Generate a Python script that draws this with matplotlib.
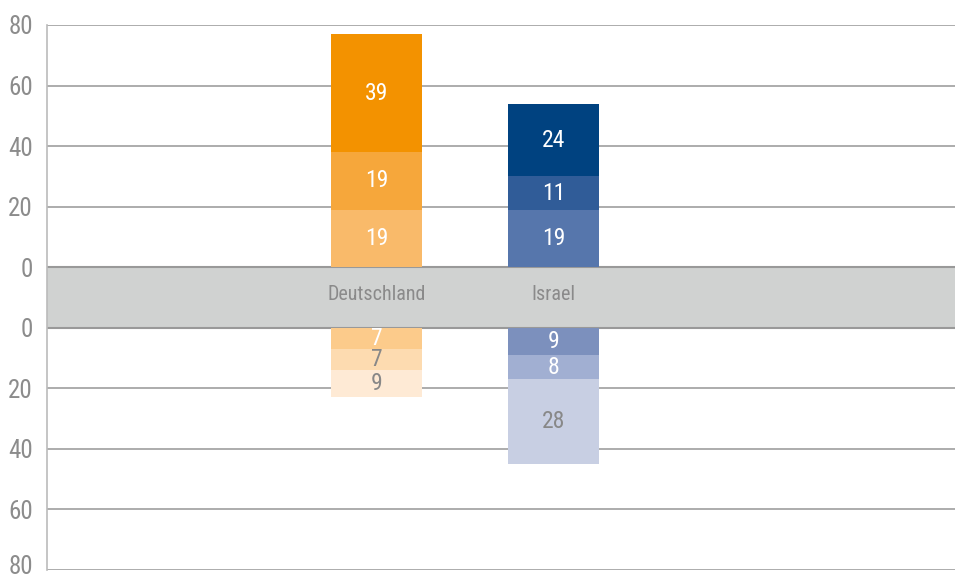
import matplotlib
matplotlib.use("Agg")
import matplotlib.pyplot as plt
from matplotlib import font_manager
from matplotlib.transforms import ScaledTranslation

categories = ["Deutschland", "Israel"]
# stacked segments above the band (bottom to top)
de_top = [19, 19, 39]
il_top = [19, 11, 24]
# stacked segments below the band (top to bottom)
de_bot = [7, 7, 9]
il_bot = [9, 8, 28]
tick_values = [0, 20, 40, 60, 80]

de_top_colors = ["#F9BA6A", "#F6A73B", "#F39200"]
il_top_colors = ["#5676AC", "#305C98", "#004280"]
de_bot_colors = ["#FCCB8B", "#FDDBB0", "#FEEAD5"]
il_bot_colors = ["#7C90BD", "#A1AFD2", "#C8CFE3"]
de_bot_text = ["white", "#888888", "#888888"]
il_bot_text = ["white", "white", "#888888"]

names = {f.name for f in font_manager.fontManager.ttflist}
pref = [n for n in ["Liberation Sans Narrow", "Roboto Condensed", "Roboto"] if n in names]
plt.rcParams["font.family"] = pref[:1] + ["DejaVu Sans"]

GAP = 10  # half height of the grey band in data units

fig = plt.figure(figsize=(9.55, 5.8), dpi=100)
ax = fig.add_axes([47 / 955, 10 / 580, 908 / 955, 545 / 580])
ax.set_ylim(-90, 90)
ax.set_xlim(-1.862, 3.268)

grid_color = "#A6A6A6"
for v in tick_values:
    ax.axhline(GAP + v, color=grid_color, lw=1.3, zorder=1)
    ax.axhline(-GAP - v, color=grid_color, lw=1.3, zorder=1)

ax.axhspan(-GAP, GAP, color="#D0D2D1", zorder=2, lw=0)
ax.axhline(GAP, color="#999999", lw=1.5, zorder=3)
ax.axhline(-GAP, color="#999999", lw=1.5, zorder=3)

width = 0.51
x = list(range(len(categories)))

def stack_up(xpos, vals, colors, textcolors):
    b = GAP
    for v, c, tc in zip(vals, colors, textcolors):
        ax.bar(xpos, v, width=width, bottom=b, color=c, zorder=4, lw=0)
        ax.text(xpos, b + v / 2, str(v), ha="center", va="center",
                color=tc, fontsize=17, zorder=5)
        b += v

def stack_down(xpos, vals, colors, textcolors):
    b = -GAP
    for v, c, tc in zip(vals, colors, textcolors):
        ax.bar(xpos, -v, width=width, bottom=b, color=c, zorder=4, lw=0)
        ax.text(xpos, b - v / 2, str(v), ha="center", va="center",
                color=tc, fontsize=17, zorder=5)
        b -= v

stack_up(x[0], de_top, de_top_colors, ["white"] * 3)
stack_up(x[1], il_top, il_top_colors, ["white"] * 3)
stack_down(x[0], de_bot, de_bot_colors, de_bot_text)
stack_down(x[1], il_bot, il_bot_colors, il_bot_text)

for xi, name in zip(x, categories):
    ax.text(xi, 1, name, ha="center", va="center", color="#8A8A8A",
            fontsize=14.5, zorder=5)

yt = [GAP + v for v in tick_values] + [-GAP - v for v in tick_values]
ax.set_yticks(yt)
ax.set_yticklabels([str(v) for v in tick_values] * 2)
ax.tick_params(axis="y", length=0, pad=10, labelsize=18, labelcolor="#8C8C8C")
ax.set_xticks([])
for s in ["top", "right", "bottom"]:
    ax.spines[s].set_visible(False)
ax.spines["left"].set_color("#BBBBBB")
ax.spines["left"].set_linewidth(1.2)
ax.spines["left"].set_zorder(6)

# lift the lowest tick label slightly so it stays inside the figure
fig.canvas.draw()
lowest = min(ax.get_yticklabels(), key=lambda t: t.get_position()[1])
lowest.set_transform(lowest.get_transform() + ScaledTranslation(0, 6 / 100, fig.dpi_scale_trans))

fig.savefig("out.png", dpi=100)
